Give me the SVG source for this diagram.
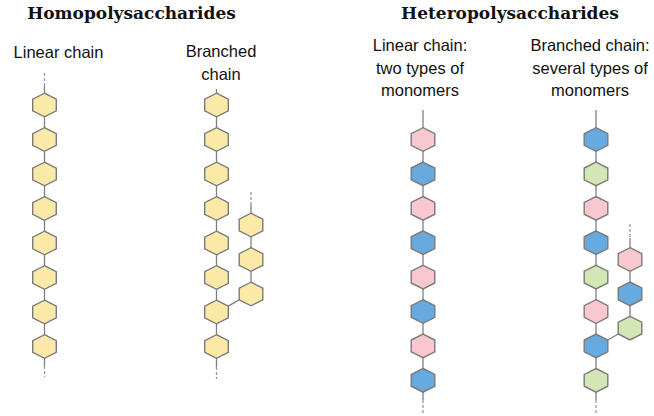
<svg xmlns="http://www.w3.org/2000/svg" xmlns:xlink="http://www.w3.org/1999/xlink" width="654" height="416" viewBox="0 0 654 416">
<style>
.title{font-family:"DejaVu Serif","Liberation Serif",serif;font-weight:bold;font-size:17px;fill:#111;text-anchor:middle}
.lbl{font-family:"Liberation Sans",Arial,sans-serif;font-size:16.5px;fill:#111;text-anchor:middle}
.hx{stroke:#7a7a7a;stroke-width:1.4}
.y{fill:#FBE9A7}
.p{fill:#F8C8CE}
.b{fill:#66AADF}
.g{fill:#D3E6B5}
.ln{stroke:#7f7f7f;stroke-width:1.3;fill:none}
.dl{stroke:#999;stroke-width:1.3;fill:none;stroke-dasharray:3 2}
</style>
<defs>
<path id="hex" d="M0,-11.8 L11.8,-5.9 L11.8,5.9 L0,11.8 L-11.8,5.9 L-11.8,-5.9 Z"/>
</defs>
<rect width="654" height="416" fill="#fff"/>
<g id="titles">
<text class="title" x="131.5" y="19">Homopolysaccharides</text>
<text class="title" x="510" y="19">Heteropolysaccharides</text>
</g>
<g id="labels">
<text class="lbl" x="58.5" y="58">Linear chain</text>
<text class="lbl" x="221" y="57">Branched</text>
<text class="lbl" x="221" y="80">chain</text>
<text class="lbl" x="420" y="51">Linear chain:</text>
<text class="lbl" x="420" y="73.5">two types of</text>
<text class="lbl" x="420" y="96">monomers</text>
<text class="lbl" x="590" y="51">Branched chain:</text>
<text class="lbl" x="590" y="73.5">several types of</text>
<text class="lbl" x="590" y="96">monomers</text>
</g>
<g id="connectors">
<line class="dl" x1="44.5" y1="73" x2="44.5" y2="86"/>
<line class="ln" x1="44.5" y1="86" x2="44.5" y2="366"/>
<line class="dl" x1="44.5" y1="366" x2="44.5" y2="377"/>
<line class="ln" x1="216.5" y1="89" x2="216.5" y2="367"/>
<line class="dl" x1="216.5" y1="367" x2="216.5" y2="379"/>
<line class="dl" x1="251" y1="192" x2="251" y2="205"/>
<line class="ln" x1="251" y1="205" x2="251" y2="294"/>
<line class="ln" x1="228.3" y1="306.1" x2="239.2" y2="299.9"/>
<line class="ln" x1="423" y1="110" x2="423" y2="400"/>
<line class="dl" x1="423" y1="400" x2="423" y2="413"/>
<line class="ln" x1="596" y1="110" x2="596" y2="400"/>
<line class="dl" x1="596" y1="400" x2="596" y2="413"/>
<line class="dl" x1="630" y1="224" x2="630" y2="238"/>
<line class="ln" x1="630" y1="238" x2="630" y2="328"/>
<line class="ln" x1="607.8" y1="340" x2="618.2" y2="334"/>
</g>
<g id="homo-linear">
<g id="h1-1"><use xlink:href="#hex" class="hx y" x="44.5" y="105"/></g>
<g id="h1-2"><use xlink:href="#hex" class="hx y" x="44.5" y="139.5"/></g>
<g id="h1-3"><use xlink:href="#hex" class="hx y" x="44.5" y="174"/></g>
<g id="h1-4"><use xlink:href="#hex" class="hx y" x="44.5" y="208.5"/></g>
<g id="h1-5"><use xlink:href="#hex" class="hx y" x="44.5" y="243"/></g>
<g id="h1-6"><use xlink:href="#hex" class="hx y" x="44.5" y="277.5"/></g>
<g id="h1-7"><use xlink:href="#hex" class="hx y" x="44.5" y="312"/></g>
<g id="h1-8"><use xlink:href="#hex" class="hx y" x="44.5" y="346.5"/></g>
</g>
<g id="homo-branched">
<g id="h2-1"><use xlink:href="#hex" class="hx y" x="216.5" y="105"/></g>
<g id="h2-2"><use xlink:href="#hex" class="hx y" x="216.5" y="139.5"/></g>
<g id="h2-3"><use xlink:href="#hex" class="hx y" x="216.5" y="174"/></g>
<g id="h2-4"><use xlink:href="#hex" class="hx y" x="216.5" y="208.5"/></g>
<g id="h2-5"><use xlink:href="#hex" class="hx y" x="216.5" y="243"/></g>
<g id="h2-6"><use xlink:href="#hex" class="hx y" x="216.5" y="277.5"/></g>
<g id="h2-7"><use xlink:href="#hex" class="hx y" x="216.5" y="312"/></g>
<g id="h2-8"><use xlink:href="#hex" class="hx y" x="216.5" y="346.5"/></g>
<g id="h2-b1"><use xlink:href="#hex" class="hx y" x="251" y="225"/></g>
<g id="h2-b2"><use xlink:href="#hex" class="hx y" x="251" y="259.5"/></g>
<g id="h2-b3"><use xlink:href="#hex" class="hx y" x="251" y="294"/></g>
</g>
<g id="hetero-linear">
<g id="h3-1"><use xlink:href="#hex" class="hx p" x="423" y="139.5"/></g>
<g id="h3-2"><use xlink:href="#hex" class="hx b" x="423" y="173.9"/></g>
<g id="h3-3"><use xlink:href="#hex" class="hx p" x="423" y="208.3"/></g>
<g id="h3-4"><use xlink:href="#hex" class="hx b" x="423" y="242.7"/></g>
<g id="h3-5"><use xlink:href="#hex" class="hx p" x="423" y="277.1"/></g>
<g id="h3-6"><use xlink:href="#hex" class="hx b" x="423" y="311.5"/></g>
<g id="h3-7"><use xlink:href="#hex" class="hx p" x="423" y="345.9"/></g>
<g id="h3-8"><use xlink:href="#hex" class="hx b" x="423" y="380.3"/></g>
</g>
<g id="hetero-branched">
<g id="h4-1"><use xlink:href="#hex" class="hx b" x="596" y="139.5"/></g>
<g id="h4-2"><use xlink:href="#hex" class="hx g" x="596" y="173.9"/></g>
<g id="h4-3"><use xlink:href="#hex" class="hx p" x="596" y="208.3"/></g>
<g id="h4-4"><use xlink:href="#hex" class="hx b" x="596" y="242.7"/></g>
<g id="h4-5"><use xlink:href="#hex" class="hx g" x="596" y="277.1"/></g>
<g id="h4-6"><use xlink:href="#hex" class="hx p" x="596" y="311.5"/></g>
<g id="h4-7"><use xlink:href="#hex" class="hx b" x="596" y="345.9"/></g>
<g id="h4-8"><use xlink:href="#hex" class="hx g" x="596" y="380.3"/></g>
<g id="h4-b1"><use xlink:href="#hex" class="hx p" x="630" y="259.5"/></g>
<g id="h4-b2"><use xlink:href="#hex" class="hx b" x="630" y="293.8"/></g>
<g id="h4-b3"><use xlink:href="#hex" class="hx g" x="630" y="328.1"/></g>
</g>
</svg>
